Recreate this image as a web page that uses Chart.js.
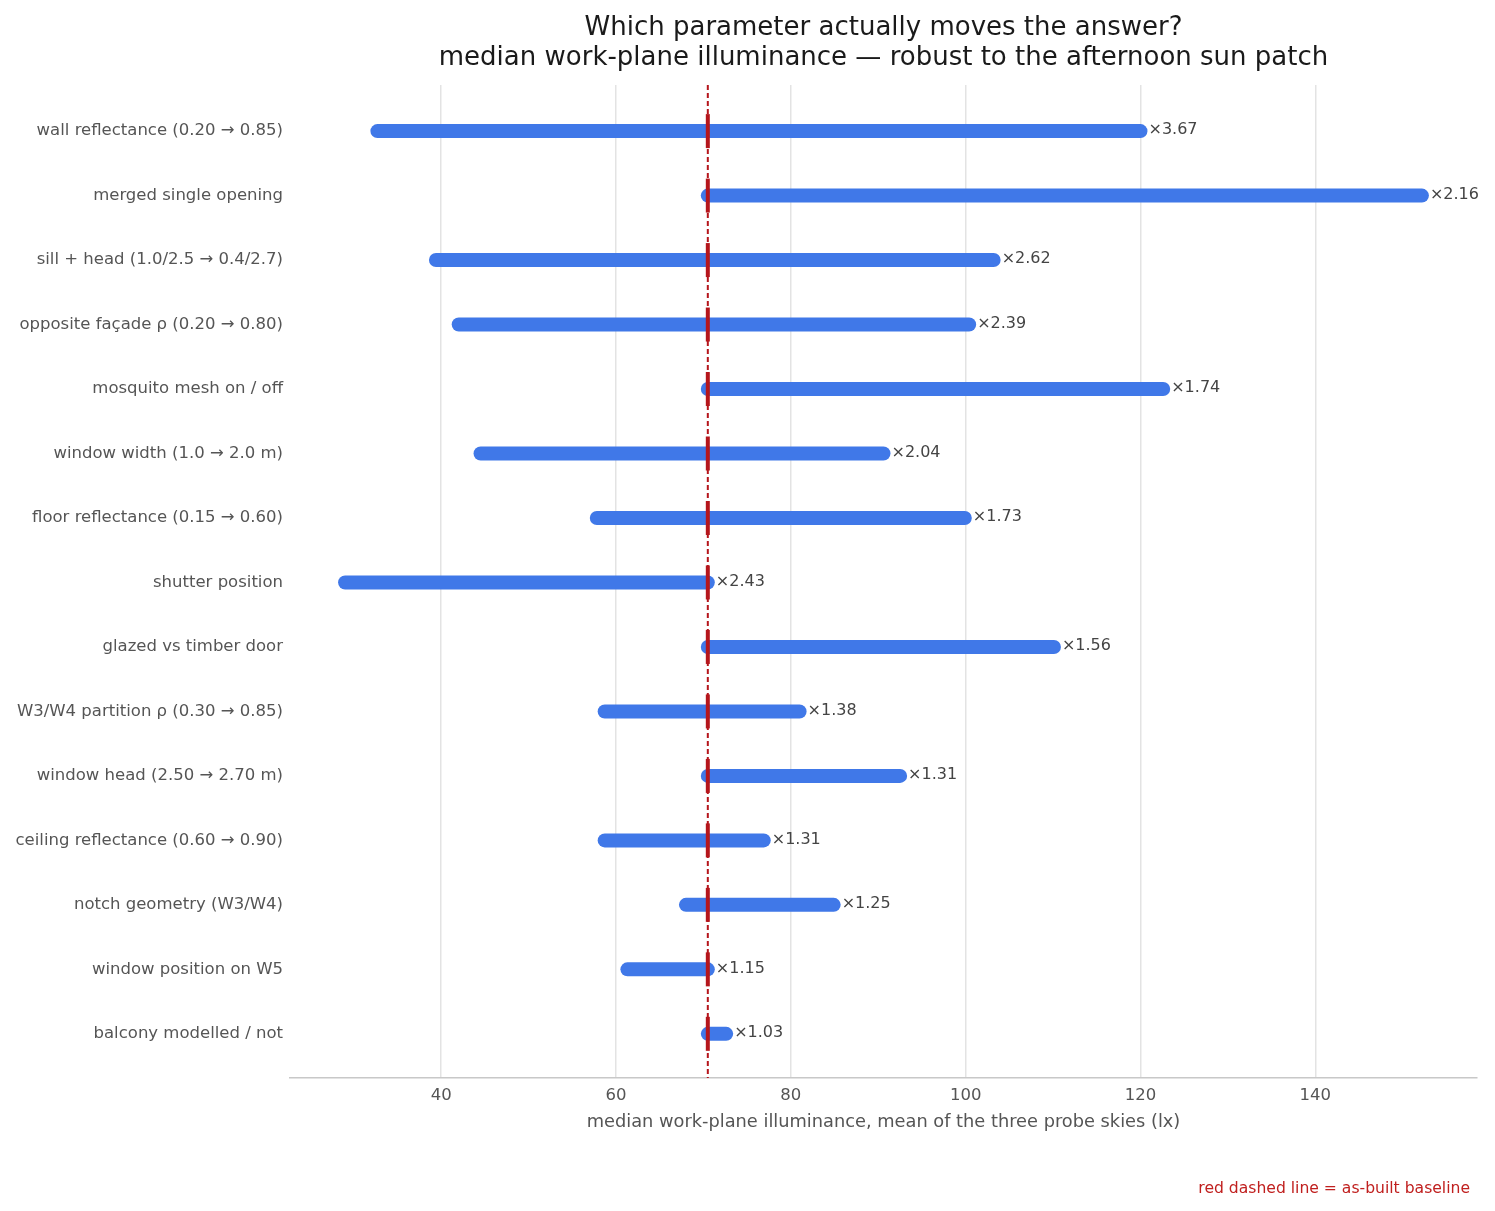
<!DOCTYPE html>
<html>
<head>
<meta charset="utf-8">
<script src="https://cdn.jsdelivr.net/npm/chart.js@4"></script>
<style>
  html, body { margin: 0; padding: 0; background: #ffffff; }
  #wrap { width: 1495px; height: 1211px; position: relative; }
</style>
</head>
<body>
<div id="wrap"><canvas id="c"></canvas></div>
<script>
const categories = [
  "wall reflectance (0.20 \u2192 0.85)",
  "merged single opening",
  "sill + head (1.0/2.5 \u2192 0.4/2.7)",
  "opposite fa\u00e7ade \u03c1 (0.20 \u2192 0.80)",
  "mosquito mesh on / off",
  "window width (1.0 \u2192 2.0 m)",
  "floor reflectance (0.15 \u2192 0.60)",
  "shutter position",
  "glazed vs timber door",
  "W3/W4 partition \u03c1 (0.30 \u2192 0.85)",
  "window head (2.50 \u2192 2.70 m)",
  "ceiling reflectance (0.60 \u2192 0.90)",
  "notch geometry (W3/W4)",
  "window position on W5",
  "balcony modelled / not"
];
const lowValues  = [32.7, 70.5, 39.4, 42.0, 70.5, 44.5, 57.8, 29.0, 70.5, 58.7, 70.5, 58.7, 68.0, 61.3, 70.5];
const highValues = [120.0, 152.2, 103.2, 100.4, 122.6, 90.6, 99.9, 70.5, 110.1, 81.0, 92.5, 76.9, 84.9, 70.5, 72.6];
const ratioLabels = ["3.67", "2.16", "2.62", "2.39", "1.74", "2.04", "1.73", "2.43", "1.56", "1.38", "1.31", "1.31", "1.25", "1.15", "1.03"];
const baseline = 70.5;
const xTicks = [40, 60, 80, 100, 120, 140];

const FONT = "'DejaVu Sans', sans-serif";
const BLUE = "#4078e8";
const RED = "#b5161c";

const barData = categories.map((c, i) => ({ x: [lowValues[i], highValues[i]], y: i }));

const drawPlugin = {
  id: 'drawPlugin',
  afterDatasetsDraw(chart) {
    const ctx = chart.ctx;
    const xs = chart.scales.x, ys = chart.scales.y;
    const area = chart.chartArea;
    const meta = chart.getDatasetMeta(0);
    const bx = xs.getPixelForValue(baseline);
    ctx.save();
    meta.data.forEach((el, i) => {
      const x1 = xs.getPixelForValue(lowValues[i]);
      const x2 = xs.getPixelForValue(highValues[i]);
      const y = ys.getPixelForValue(i);
      ctx.strokeStyle = BLUE;
      ctx.lineWidth = 14;
      ctx.lineCap = 'round';
      ctx.beginPath();
      ctx.moveTo(x1, y);
      ctx.lineTo(x2, y);
      ctx.stroke();
    });
    ctx.strokeStyle = RED;
    ctx.lineWidth = 2;
    ctx.lineCap = 'butt';
    ctx.setLineDash([5, 3]);
    ctx.beginPath();
    ctx.moveTo(bx, area.top);
    ctx.lineTo(bx, area.bottom);
    ctx.stroke();
    ctx.setLineDash([]);
    meta.data.forEach((el, i) => {
      const y = ys.getPixelForValue(i);
      ctx.strokeStyle = RED;
      ctx.lineWidth = 4;
      ctx.beginPath();
      ctx.moveTo(bx, y - 17);
      ctx.lineTo(bx, y + 17);
      ctx.stroke();
      const x2 = xs.getPixelForValue(highValues[i]);
      ctx.fillStyle = '#444444';
      ctx.font = '16px ' + FONT;
      ctx.textAlign = 'left';
      ctx.textBaseline = 'middle';
      ctx.fillText('\u00d7' + ratioLabels[i], x2 + 8, y - 1);
    });
    ctx.restore();
  },
  afterDraw(chart) {
    const ctx = chart.ctx;
    const area = chart.chartArea;
    const cx = (area.left + area.right) / 2;
    ctx.save();
    ctx.textAlign = 'center';
    ctx.textBaseline = 'middle';
    ctx.fillStyle = '#1a1a1a';
    ctx.font = '26px ' + FONT;
    ctx.fillText('Which parameter actually moves the answer?', cx, 28);
    ctx.fillText('median work-plane illuminance \u2014 robust to the afternoon sun patch', cx, 58);
    ctx.fillStyle = '#555555';
    ctx.font = '17.8px ' + FONT;
    ctx.fillText('median work-plane illuminance, mean of the three probe skies (lx)', cx, 1122);
    ctx.textAlign = 'right';
    ctx.fillStyle = '#c0201f';
    ctx.font = '15.6px ' + FONT;
    ctx.fillText('red dashed line = as-built baseline', 1470, 1189);
    ctx.restore();
  }
};

new Chart(document.getElementById('c'), {
  type: 'bar',
  data: {
    datasets: [{
      data: barData,
      backgroundColor: 'rgba(0,0,0,0)',
      borderWidth: 0,
      barThickness: 14
    }]
  },
  options: {
    indexAxis: 'y',
    responsive: true,
    maintainAspectRatio: false,
    animation: false,
    events: [],
    layout: { padding: { top: 85, right: 18, bottom: 0, left: 0 } },
    plugins: {
      legend: { display: false },
      tooltip: { enabled: false },
      title: { display: false }
    },
    scales: {
      x: {
        type: 'linear',
        min: 22.7,
        max: 158.5,
        afterBuildTicks(scale) { scale.ticks = xTicks.map(v => ({ value: v })); },
        afterFit(scale) { scale.height = 133; },
        grid: { color: '#e3e3e3', lineWidth: 1.5, drawTicks: false },
        border: { display: true, color: '#c8c8c8', width: 1.5 },
        ticks: { color: '#555555', font: { family: FONT, size: 16.5 }, padding: 8 }
      },
      y: {
        type: 'linear',
        reverse: true,
        offset: false,
        min: -0.715,
        max: 14.685,
        afterBuildTicks(scale) { scale.ticks = categories.map((c, i) => ({ value: i })); },
        afterFit(scale) { scale.width = 290; },
        grid: { display: false, drawTicks: false },
        border: { display: false },
        ticks: {
          color: '#555555',
          font: { family: FONT, size: 16.5 },
          padding: 7,
          autoSkip: false,
          callback: (v) => (Number.isInteger(v) ? categories[v] : '')
        }
      }
    }
  },
  plugins: [drawPlugin]
});
</script>
</body>
</html>
